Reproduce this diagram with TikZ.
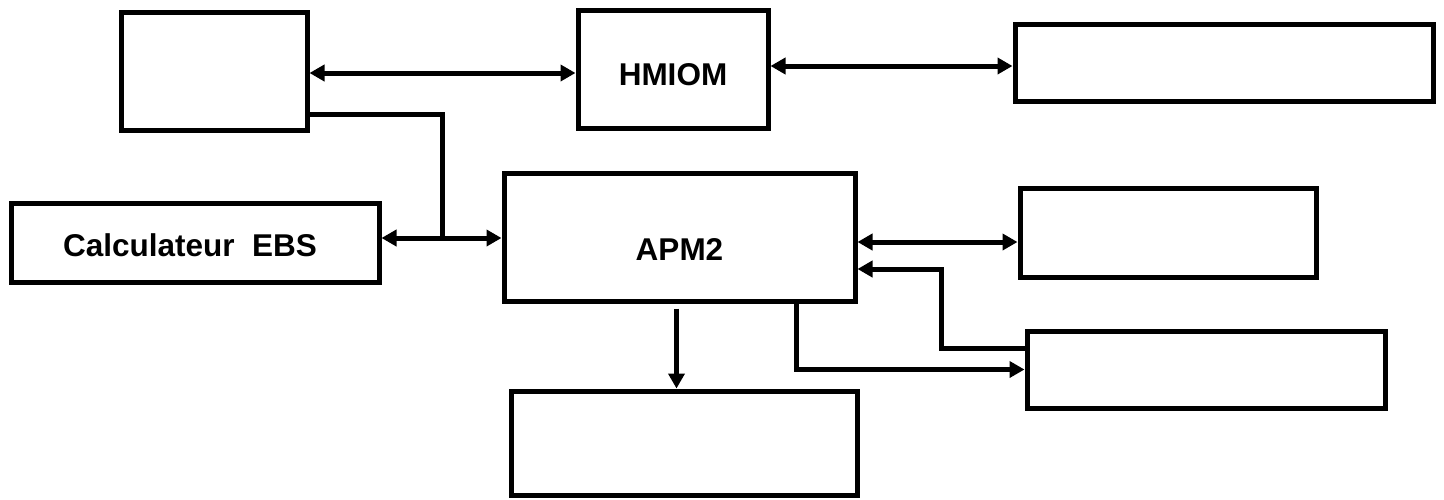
\documentclass[tikz,border=0pt]{standalone}
\usepackage{fontspec}
\setmainfont{Liberation Sans}
\usetikzlibrary{arrows.meta,positioning}

\begin{document}
\begin{tikzpicture}[x=1pt,y=-1pt,
  blk/.style={draw=black,line width=5pt,fill=white,inner sep=0pt,
    font=\fontsize{31.5}{38}\selectfont\bfseries},
  link/.style={line width=5pt,-{Triangle[length=15pt,width=16pt]}},
  both/.style={line width=5pt,{Triangle[length=15pt,width=16pt]}-{Triangle[length=15pt,width=16pt]}},
  plain/.style={line width=5pt}]
\useasboundingbox (0,0) rectangle (1444,499);
% boxes
\node[blk,minimum width=186pt,minimum height=118pt] (src) at (214,71) {};
\node[blk,minimum width=190pt,minimum height=118pt,text height=32pt,text depth=0pt] (hmiom) at (673,69) {HMIOM};
\node[blk,minimum width=418pt,minimum height=77pt] (out1) at (1224,62.5) {};
\node[blk,minimum width=368pt,minimum height=79pt,text height=27pt,text depth=0pt] (ebs) at (195,242.5) {\hspace*{-10pt}Calculateur\ \ EBS};
\node[blk,minimum width=351pt,minimum height=128pt,text height=46pt,text depth=0pt] (apm) at (679.5,237) {APM2};
\node[blk,minimum width=296pt,minimum height=89pt] (out2) at (1168,232.5) {};
\node[blk,minimum width=358pt,minimum height=77pt] (out3) at (1206,369.5) {};
\node[blk,minimum width=346pt,minimum height=104pt] (out4) at (684,443) {};
\coordinate (jn) at (442,238);
% links
\draw[both] ([yshift=-2pt]src.east) -- ([yshift=-2pt]src.east -| hmiom.west);
\draw[both] ([yshift=3pt]hmiom.east) -- ([yshift=3pt]hmiom.east -| out1.west);
\draw[plain] ([yshift=18pt]src.south east) -| (jn);
\draw[both] (ebs.east |- jn) -- (apm.west |- jn);
\draw[both] ([yshift=-5pt]apm.east) -- ([yshift=-5pt]apm.east -| out2.west);
\draw[link] ([yshift=21pt]out3.west) -- ++(-83,0) |- ([yshift=-32pt]apm.east);
\draw[link] ([xshift=117pt]apm.south) |- (out3.west);
\draw[link] ([xshift=-3pt,yshift=-5pt]apm.south) -- ([xshift=-3pt]apm.south |- out4.north);
\end{tikzpicture}
\end{document}
